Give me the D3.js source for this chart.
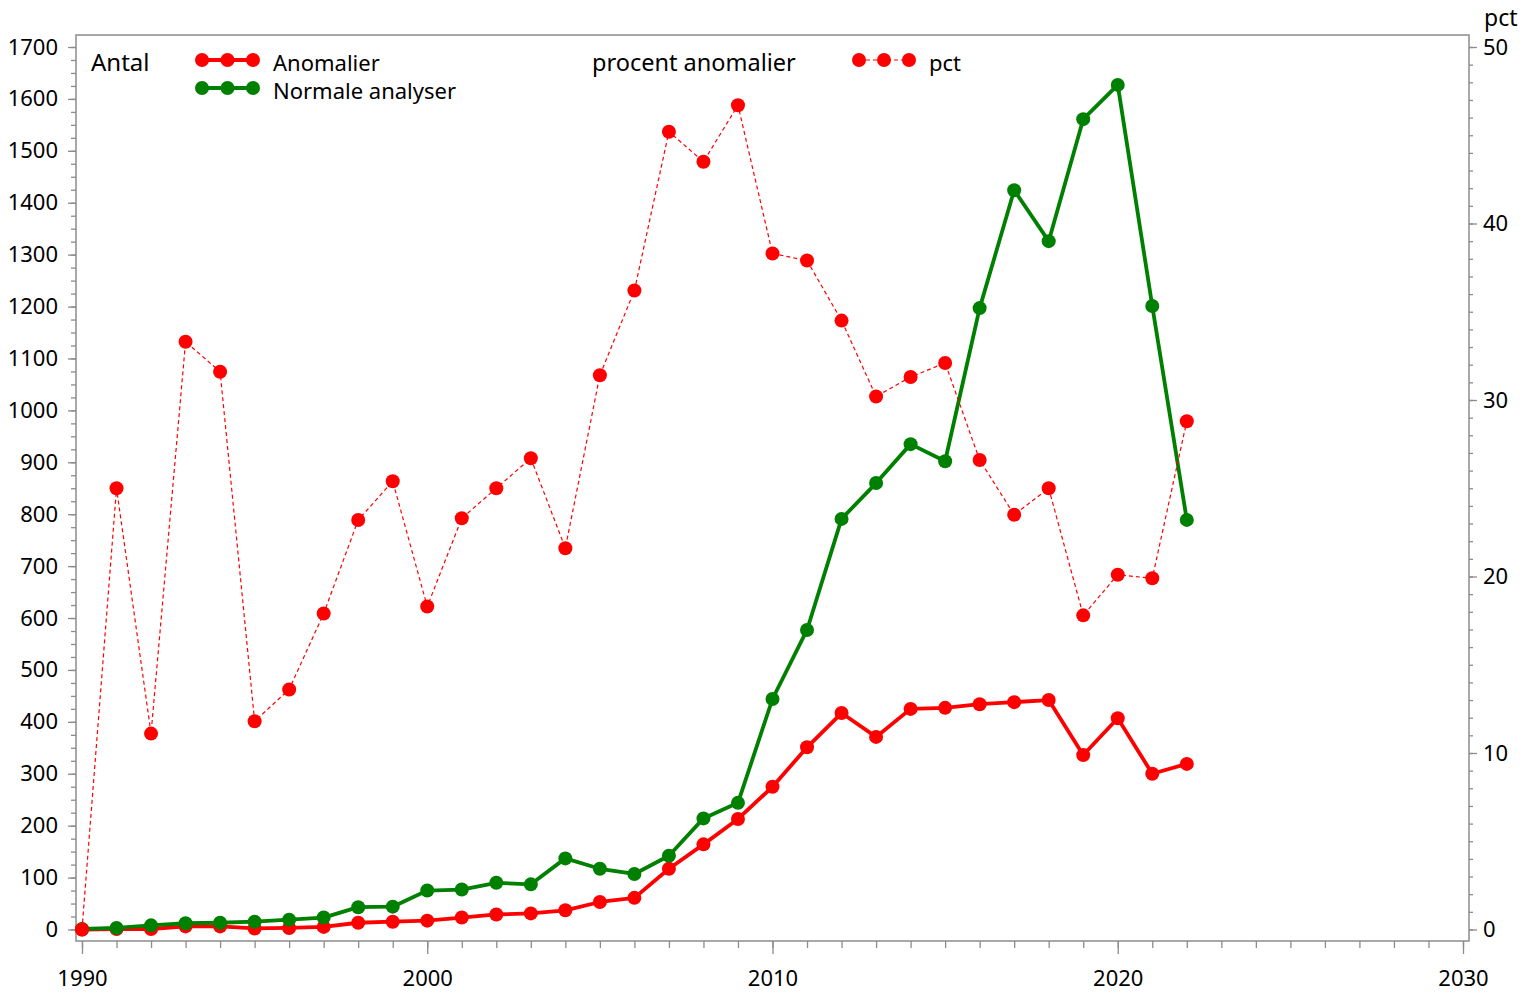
<!DOCTYPE html>
<html><head><meta charset="utf-8">
<script src="https://cdn.jsdelivr.net/npm/d3@7"></script>
<style>
html,body{margin:0;padding:0;background:#fff;}
text{font-family:"Noto Sans",sans-serif;fill:#000;}
</style></head>
<body>
<svg id="chart" width="1536" height="993"></svg>
<script>
const years = [1990,1991,1992,1993,1994,1995,1996,1997,1998,1999,2000,2001,2002,2003,2004,2005,2006,2007,2008,2009,2010,2011,2012,2013,2014,2015,2016,2017,2018,2019,2020,2021,2022];
const anomalier = [0,1,1,6,6,2,3,5,13,15,17,23,29,31,37,53,61,117,164,213,275,351,417,371,425,427,434,438,442,336,407,300,319];
const normale = [1,3,8,12,13,15,19,23,43,44,75,77,90,87,137,117,107,142,214,244,444,577,791,860,935,902,1197,1424,1326,1561,1627,1201,789];
const pct = [0,25.0,11.1,33.3,31.6,11.8,13.6,17.9,23.2,25.4,18.3,23.3,25.0,26.7,21.6,31.4,36.2,45.2,43.5,46.7,38.3,37.9,34.5,30.2,31.3,32.1,26.6,23.5,25.0,17.8,20.1,19.9,28.8];
const xTicks = [1990,2000,2010,2020,2030];
const yLeftTicks = [0,100,200,300,400,500,600,700,800,900,1000,1100,1200,1300,1400,1500,1600,1700];
const yRightTicks = [0,10,20,30,40,50];

const svg = d3.select("#chart");
const FL=76, FR=1469, FT=35, FB=941;
const x = d3.scaleLinear().domain([1990,2030]).range([82,1463]);
const yL = d3.scaleLinear().domain([0,1700]).range([929.5,47]);
const yR = d3.scaleLinear().domain([0,50]).range([929.5,47]);
const AX = "#8c8c8c";

// frame
svg.append("rect").attr("x",FL).attr("y",FT).attr("width",FR-FL).attr("height",FB-FT)
  .attr("fill","none").attr("stroke",AX).attr("stroke-width",1.5);

function styleAxis(g){ g.select(".domain").remove(); g.selectAll(".tick line").attr("stroke",AX).attr("stroke-width",1.3); g.selectAll("text").style("font-family","Noto Sans").style("font-size","22px").attr("fill","#000"); }

// x minor
svg.append("g").attr("transform",`translate(0,${FB})`)
  .call(d3.axisBottom(x).tickValues(d3.range(1990,2031)).tickSize(7).tickFormat(""))
  .call(styleAxis);
svg.append("g").attr("transform",`translate(0,${FB})`)
  .call(d3.axisBottom(x).tickValues(xTicks).tickSize(13).tickFormat(d3.format("d")).tickPadding(14))
  .call(styleAxis)
  .call(g=>g.selectAll("text").attr("dy",null).attr("y",45));

// left
svg.append("g").attr("transform",`translate(${FL},0)`)
  .call(d3.axisLeft(yL).tickValues(d3.range(0,1701,25)).tickSize(5).tickFormat(""))
  .call(styleAxis);
svg.append("g").attr("transform",`translate(${FL},0)`)
  .call(d3.axisLeft(yL).tickValues(yLeftTicks).tickSize(8).tickPadding(10).tickFormat(d3.format("d")))
  .call(styleAxis);

// right
svg.append("g").attr("transform",`translate(${FR},0)`)
  .call(d3.axisRight(yR).tickValues(d3.range(0,51,1)).tickSize(4).tickFormat(""))
  .call(styleAxis);
svg.append("g").attr("transform",`translate(${FR},0)`)
  .call(d3.axisRight(yR).tickValues(yRightTicks).tickSize(8).tickPadding(6).tickFormat(d3.format("d")))
  .call(styleAxis);
svg.append("text").attr("x",1484).attr("y",26).style("font-size","23px").text("pct");

const RED="#ff0000", GREEN="#008000";
function series(vals, scale, color, width, dash){
  const data = years.map((yr,i)=>({yr, v: vals[i]}));
  const line = d3.line().x(d=>x(d.yr)).y(d=>scale(d.v));
  const g = svg.append("g");
  g.append("path").datum(data).attr("d",line).attr("fill","none")
    .attr("stroke",color).attr("stroke-width",width).attr("stroke-linejoin","round")
    .attr("stroke-dasharray",dash||null);
  g.selectAll("circle").data(data).join("circle")
    .attr("cx",d=>x(d.yr)).attr("cy",d=>scale(d.v)).attr("r",7).attr("fill",color);
}
series(anomalier, yL, RED, 3.8);
series(normale, yL, GREEN, 3.8);
series(pct, yR, RED, 1.2, "4,3");

// legend
const lg = svg.append("g").style("font-size","22px");
lg.append("text").attr("x",91).attr("y",71).style("font-size","24px").text("Antal");
function legItem(x0,x1,yy,color,w,dash,label,tx){
  lg.append("line").attr("x1",x0).attr("x2",x1).attr("y1",yy).attr("y2",yy)
    .attr("stroke",color).attr("stroke-width",w).attr("stroke-dasharray",dash||null);
  [x0,(x0+x1)/2,x1].forEach(cx=>lg.append("circle").attr("cx",cx).attr("cy",yy).attr("r",7).attr("fill",color));
  lg.append("text").attr("x",tx).attr("y",yy+11).text(label);
}
legItem(202,253,60,RED,3.8,null,"Anomalier",273);
legItem(202,253,88,GREEN,3.8,null,"Normale analyser",273);
lg.append("text").attr("x",592).attr("y",71).style("font-size","23.5px").text("procent anomalier");
legItem(859,909,60,RED,1.2,"4,3","pct",929);
</script>
</body></html>
